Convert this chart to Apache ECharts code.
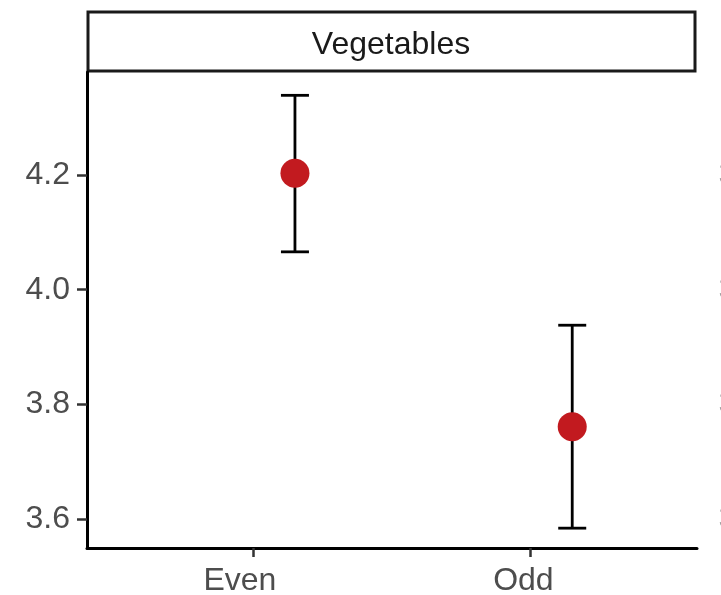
<!DOCTYPE html>
<html>
<head>
<meta charset="utf-8">
<script src="https://cdn.jsdelivr.net/npm/echarts@6/dist/echarts.min.js"></script>
<style>
html,body{margin:0;padding:0;background:#fff;}
#chart{width:721px;height:595px;}
</style>
</head>
<body>
<div id="chart"></div>
<script>
// ---- data ----
const stripTitle = 'Vegetables';
const categories = ['Even', 'Odd'];
const means = [4.203, 3.761];
const lower = [4.066, 3.584];
const upper = [4.339, 3.938];
const yTicks = [3.6, 3.8, 4.0, 4.2];
const neighbourLabels = ['3', '3', '3', '3'];

// ---- layout / style constants ----
const dodge = 0.15;           // horizontal dodge of the points (category units)
const xPositions = categories.map((c, i) => i + 1);
const textFont = 'Liberation Sans, Arial, Helvetica, sans-serif';
const axisTextColor = '#4d4d4d';
const pointColor = '#c21a1f';

const chart = echarts.init(document.getElementById('chart'), null, {renderer: 'canvas'});

const errData = categories.map((c, i) => [xPositions[i] + dodge, lower[i], upper[i]]);
const ptData = categories.map((c, i) => [xPositions[i] + dodge, means[i]]);

const option = {
  animation: false,
  backgroundColor: '#ffffff',
  grid: {left: 87, right: 24, top: 72, bottom: 47, containLabel: false, outerBoundsMode: 'none'},
  xAxis: {
    type: 'value',
    min: 0.4, max: 2.6,
    splitLine: {show: false},
    axisLine: {show: true, onZero: false, lineStyle: {color: '#000', width: 3}},
    axisTick: {show: true, customValues: xPositions, length: 9, lineStyle: {color: '#333', width: 2.5}},
    axisLabel: {
      show: true,
      customValues: xPositions,
      formatter: v => categories[Math.round(v) - 1] || '',
      color: axisTextColor, fontSize: 32, fontFamily: textFont,
      margin: 17, align: 'right', padding: [0, -23, 0, 0]
    }
  },
  yAxis: {
    type: 'value',
    min: 3.5494, max: 4.3797,
    splitLine: {show: false},
    axisLine: {show: true, onZero: false, lineStyle: {color: '#000', width: 3}},
    axisTick: {show: true, customValues: yTicks, length: 10, lineStyle: {color: '#333', width: 2.5}},
    axisLabel: {
      show: true,
      customValues: yTicks,
      formatter: v => v.toFixed(1),
      color: axisTextColor, fontSize: 32, fontFamily: textFont,
      margin: 17
    }
  },
  series: [
    {
      type: 'custom',
      data: errData,
      z: 2,
      renderItem: function (params, api) {
        const x = api.value(0);
        const lo = api.coord([x, api.value(1)]);
        const hi = api.coord([x, api.value(2)]);
        const half = 14;
        const style = {stroke: '#000', lineWidth: 2.8, fill: null};
        return {
          type: 'group',
          children: [
            {type: 'line', shape: {x1: lo[0], y1: lo[1], x2: hi[0], y2: hi[1]}, style: style},
            {type: 'line', shape: {x1: hi[0] - half, y1: hi[1], x2: hi[0] + half, y2: hi[1]}, style: style},
            {type: 'line', shape: {x1: lo[0] - half, y1: lo[1], x2: lo[0] + half, y2: lo[1]}, style: style}
          ]
        };
      }
    },
    {
      type: 'scatter',
      data: ptData,
      z: 3,
      symbol: 'circle',
      symbolSize: 29,
      itemStyle: {color: pointColor, opacity: 1}
    }
  ],
  graphic: [
    {
      type: 'rect',
      shape: {x: 88, y: 12, width: 607, height: 59},
      style: {fill: '#fff', stroke: '#1a1a1a', lineWidth: 3}
    },
    {
      type: 'text',
      x: 391, y: 45,
      style: {text: stripTitle, fill: '#1a1a1a', font: '32px ' + textFont, align: 'center', verticalAlign: 'middle'}
    }
  ].concat(neighbourLabels.map((t, i) => ({
    type: 'text',
    x: 718.5,
    y: 0,
    style: {text: t, fill: '#9a9a9a', font: '32px ' + textFont, align: 'left', verticalAlign: 'middle'},
    info: yTicks[yTicks.length - 1 - i]
  })))
};

chart.setOption(option);

// place the cut-off neighbour-panel labels at the tick heights via the axis scale
const g = option.graphic.map((el, idx) => {
  if (idx < 2) return el;
  const v = el.info;
  const py = chart.convertToPixel({yAxisIndex: 0}, v);
  return Object.assign({}, el, {y: py});
});
chart.setOption({graphic: g});
</script>
</body>
</html>
